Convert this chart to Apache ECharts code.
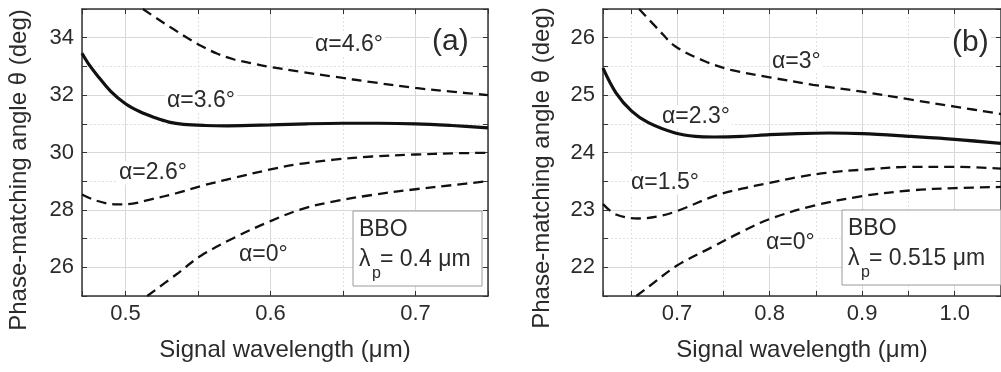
<!DOCTYPE html>
<html>
<head>
<meta charset="utf-8">
<script src="https://cdn.jsdelivr.net/npm/echarts@6/dist/echarts.min.js"></script>
<style>
html,body{margin:0;padding:0;background:#fff;}
#chart{width:1001px;height:372px;}
</style>
</head>
<body>
<div id="chart"></div>
<script>
// ---------- Data: panel (a), BBO, pump 0.4 um ----------
const a_alpha46_x = [0.512, 0.522, 0.533, 0.543, 0.552, 0.563, 0.575, 0.588, 0.600, 0.620, 0.644, 0.670, 0.700, 0.725, 0.750];
const a_alpha46_y = [35.00, 34.66, 34.30, 33.98, 33.72, 33.45, 33.24, 33.10, 32.98, 32.82, 32.64, 32.45, 32.25, 32.12, 32.00];
const a_alpha36_x = [0.470, 0.475, 0.480, 0.490, 0.500, 0.510, 0.520, 0.530, 0.540, 0.555, 0.570, 0.600, 0.625, 0.650, 0.675, 0.700, 0.725, 0.750];
const a_alpha36_y = [33.46, 33.05, 32.72, 32.12, 31.70, 31.42, 31.22, 31.06, 30.98, 30.94, 30.93, 30.96, 31.00, 31.02, 31.02, 31.00, 30.94, 30.86];
const a_alpha26_x = [0.470, 0.480, 0.494, 0.505, 0.517, 0.535, 0.552, 0.575, 0.600, 0.620, 0.644, 0.670, 0.700, 0.725, 0.750];
const a_alpha26_y = [28.54, 28.32, 28.19, 28.22, 28.36, 28.58, 28.83, 29.12, 29.41, 29.60, 29.75, 29.86, 29.93, 29.97, 29.99];
const a_alpha0_x  = [0.515, 0.535, 0.552, 0.575, 0.600, 0.621, 0.644, 0.670, 0.700, 0.725, 0.750];
const a_alpha0_y  = [25.00, 25.75, 26.40, 27.03, 27.61, 28.02, 28.30, 28.52, 28.72, 28.86, 29.00];

// ---------- Data: panel (b), BBO, pump 0.515 um ----------
const b_alpha3_x  = [0.659, 0.680, 0.698, 0.730, 0.758, 0.800, 0.847, 0.900, 0.953, 1.000, 1.050];
const b_alpha3_y  = [26.50, 26.14, 25.85, 25.59, 25.44, 25.31, 25.18, 25.06, 24.92, 24.80, 24.67];
const b_alpha23_x = [0.620, 0.634, 0.651, 0.669, 0.698, 0.720, 0.740, 0.770, 0.800, 0.830, 0.864, 0.900, 0.953, 1.000, 1.050];
const b_alpha23_y = [25.47, 25.04, 24.72, 24.52, 24.34, 24.28, 24.27, 24.28, 24.31, 24.33, 24.34, 24.33, 24.28, 24.23, 24.16];
const b_alpha15_x = [0.620, 0.634, 0.658, 0.680, 0.700, 0.740, 0.770, 0.800, 0.830, 0.864, 0.900, 0.953, 1.000, 1.050];
const b_alpha15_y = [23.10, 22.92, 22.85, 22.89, 22.98, 23.24, 23.37, 23.47, 23.57, 23.65, 23.70, 23.75, 23.75, 23.72];
const b_alpha0_x  = [0.656, 0.670, 0.700, 0.740, 0.770, 0.800, 0.847, 0.900, 0.953, 1.000, 1.050];
const b_alpha0_y  = [21.50, 21.67, 22.03, 22.37, 22.62, 22.84, 23.07, 23.24, 23.34, 23.38, 23.40];

// ---------- Axis ranges & text ----------
const a_xRange = [0.47, 0.75];
const a_yRange = [25, 35];
const b_xRange = [0.62, 1.05];
const b_yRange = [21.5, 26.5];
const xTitle = 'Signal wavelength (\u03bcm)';
const yTitle = 'Phase-matching angle \u03b8 (deg)';
const a_labels = ['\u03b1=4.6\u00b0', '\u03b1=3.6\u00b0', '\u03b1=2.6\u00b0', '\u03b1=0\u00b0'];
const b_labels = ['\u03b1=3\u00b0', '\u03b1=2.3\u00b0', '\u03b1=1.5\u00b0', '\u03b1=0\u00b0'];

const FONT = '"Liberation Sans", Arial, Helvetica, sans-serif';
const TXT = '#2b2b2b';
const AX = '#333';

function pairs(xs, ys) { return xs.map((x, i) => [x, ys[i]]); }

function xAxisMain(gi, range, iv) {
  return {
    type: 'value', gridIndex: gi, min: range[0], max: range[1],
    splitNumber: Math.round((range[1] - range[0]) / iv), minInterval: iv, maxInterval: iv,
    axisLine: { show: true, onZero: false, lineStyle: { color: AX, width: 1.5 } },
    axisTick: { show: true, inside: true, length: 5, lineStyle: { color: AX, width: 1 } },
    minorTick: { show: true, splitNumber: 2, length: 5, lineStyle: { color: AX, width: 1 } },
    axisLabel: { show: true, margin: 7, color: TXT, fontSize: 22, fontFamily: FONT,
      showMinLabel: false, showMaxLabel: false, formatter: v => v.toFixed(1) },
    splitLine: { show: true, lineStyle: { color: '#d8d8d8', width: 1 } },
    minorSplitLine: { show: true, lineStyle: { color: '#e0e0e0', width: 1, type: [2, 2] } },
    name: xTitle, nameLocation: 'middle', nameGap: 42,
    nameTextStyle: { color: TXT, fontSize: 24, fontFamily: FONT }
  };
}
function xAxisTop(gi, range, iv) {
  return {
    type: 'value', gridIndex: gi, position: 'top', min: range[0], max: range[1],
    splitNumber: Math.round((range[1] - range[0]) / iv), minInterval: iv, maxInterval: iv,
    axisLine: { show: true, onZero: false, lineStyle: { color: AX, width: 1.5 } },
    axisTick: { show: true, inside: true, length: 5, lineStyle: { color: AX, width: 1 } },
    minorTick: { show: true, splitNumber: 2, length: 5, lineStyle: { color: AX, width: 1 } },
    axisLabel: { show: false }, splitLine: { show: false }, minorSplitLine: { show: false }
  };
}
function yAxisMain(gi, range, iv) {
  return {
    type: 'value', gridIndex: gi, min: range[0], max: range[1],
    splitNumber: Math.round((range[1] - range[0]) / iv), minInterval: iv, maxInterval: iv,
    axisLine: { show: true, onZero: false, lineStyle: { color: AX, width: 1.5 } },
    axisTick: { show: true, inside: true, length: 5, lineStyle: { color: AX, width: 1 } },
    minorTick: { show: true, splitNumber: 2, length: 5, lineStyle: { color: AX, width: 1 } },
    axisLabel: { show: true, margin: 8, color: TXT, fontSize: 22, fontFamily: FONT,
      showMinLabel: false, showMaxLabel: false, formatter: v => String(Math.round(v)) },
    splitLine: { show: true, lineStyle: { color: '#d8d8d8', width: 1 } },
    minorSplitLine: { show: true, lineStyle: { color: '#e0e0e0', width: 1, type: [2, 2] } }
  };
}
function yAxisRight(gi, range, iv) {
  return {
    type: 'value', gridIndex: gi, position: 'right', min: range[0], max: range[1],
    splitNumber: Math.round((range[1] - range[0]) / iv), minInterval: iv, maxInterval: iv,
    axisLine: { show: true, onZero: false, lineStyle: { color: AX, width: 1.5 } },
    axisTick: { show: true, inside: true, length: 5, lineStyle: { color: AX, width: 1 } },
    minorTick: { show: true, splitNumber: 2, length: 5, lineStyle: { color: AX, width: 1 } },
    axisLabel: { show: false }, splitLine: { show: false }, minorSplitLine: { show: false }
  };
}
function line(name, xi, yi, xs, ys, solid) {
  return {
    name, type: 'line', xAxisIndex: xi, yAxisIndex: yi, data: pairs(xs, ys),
    showSymbol: false, smooth: 0.35, clip: true, z: 3,
    lineStyle: solid ? { color: '#111', width: 3.2 } : { color: '#111', width: 2.3, type: [10, 6] }
  };
}
function label(text, x, y, size) {
  return { type: 'text', x, y, z: 1,
    style: { text, fontSize: size || 23, fontFamily: FONT, fill: TXT, textAlign: 'left',
      textVerticalAlign: 'middle', backgroundColor: '#fff', padding: [0, 2] } };
}
function plain(text, x, y, size, align) {
  return { type: 'text', x, y, z: 12,
    style: { text, fontSize: size, fontFamily: FONT, fill: TXT, textAlign: align || 'left',
      textVerticalAlign: 'middle' } };
}
function box(x, y, w, h) {
  return { type: 'rect', z: 11, shape: { x, y, width: w, height: h },
    style: { fill: '#fff', stroke: '#9a9a9a', lineWidth: 1 } };
}

const chart = echarts.init(document.getElementById('chart'), null, { renderer: 'canvas' });
chart.setOption({
  animation: false,
  backgroundColor: '#fff',
  grid: [
    { left: 82, top: 9, width: 406, height: 287, containLabel: false },
    { left: 603, top: 9, width: 404, height: 287, containLabel: false }
  ],
  xAxis: [
    xAxisMain(0, a_xRange, 0.1), xAxisTop(0, a_xRange, 0.1),
    xAxisMain(1, b_xRange, 0.1), xAxisTop(1, b_xRange, 0.1)
  ],
  yAxis: [
    yAxisMain(0, a_yRange, 2), yAxisRight(0, a_yRange, 2),
    yAxisMain(1, b_yRange, 1), yAxisRight(1, b_yRange, 1)
  ],
  series: [
    line(a_labels[0], 0, 0, a_alpha46_x, a_alpha46_y, false),
    line(a_labels[1], 0, 0, a_alpha36_x, a_alpha36_y, true),
    line(a_labels[2], 0, 0, a_alpha26_x, a_alpha26_y, false),
    line(a_labels[3], 0, 0, a_alpha0_x, a_alpha0_y, false),
    line(b_labels[0], 2, 2, b_alpha3_x, b_alpha3_y, false),
    line(b_labels[1], 2, 2, b_alpha23_x, b_alpha23_y, true),
    line(b_labels[2], 2, 2, b_alpha15_x, b_alpha15_y, false),
    line(b_labels[3], 2, 2, b_alpha0_x, b_alpha0_y, false)
  ],
  graphic: [
    // y-axis titles
    { type: 'text', x: 19, y: 170, rotation: Math.PI / 2, z: 12,
      style: { text: yTitle, fontSize: 24, fontFamily: FONT, fill: TXT, textAlign: 'center', textVerticalAlign: 'middle' } },
    { type: 'text', x: 542, y: 168, rotation: Math.PI / 2, z: 12,
      style: { text: yTitle, fontSize: 24, fontFamily: FONT, fill: TXT, textAlign: 'center', textVerticalAlign: 'middle' } },
    // panel (a) annotations
    label(a_labels[0], 313, 45),
    label(a_labels[1], 165, 101),
    label(a_labels[2], 117, 173),
    label(a_labels[3], 237, 255),
    label('(a)', 430, 42, 30),
    box(353, 211, 129, 75),
    plain('BBO', 359, 230, 23),
    plain('\u03bb', 359, 260, 23),
    plain('p', 372, 274, 16),
    plain('= 0.4 \u03bcm', 380, 260, 23),
    // panel (b) annotations
    label(b_labels[0], 770, 62),
    label(b_labels[1], 660, 117),
    label(b_labels[2], 629, 183),
    label(b_labels[3], 764, 243),
    label('(b)', 950, 43, 30),
    box(842, 210, 159, 75),
    plain('BBO', 848, 229, 23),
    plain('\u03bb', 848, 259, 23),
    plain('p', 861, 273, 16),
    plain('= 0.515 \u03bcm', 869, 259, 23)
  ]
});
</script>
</body>
</html>
